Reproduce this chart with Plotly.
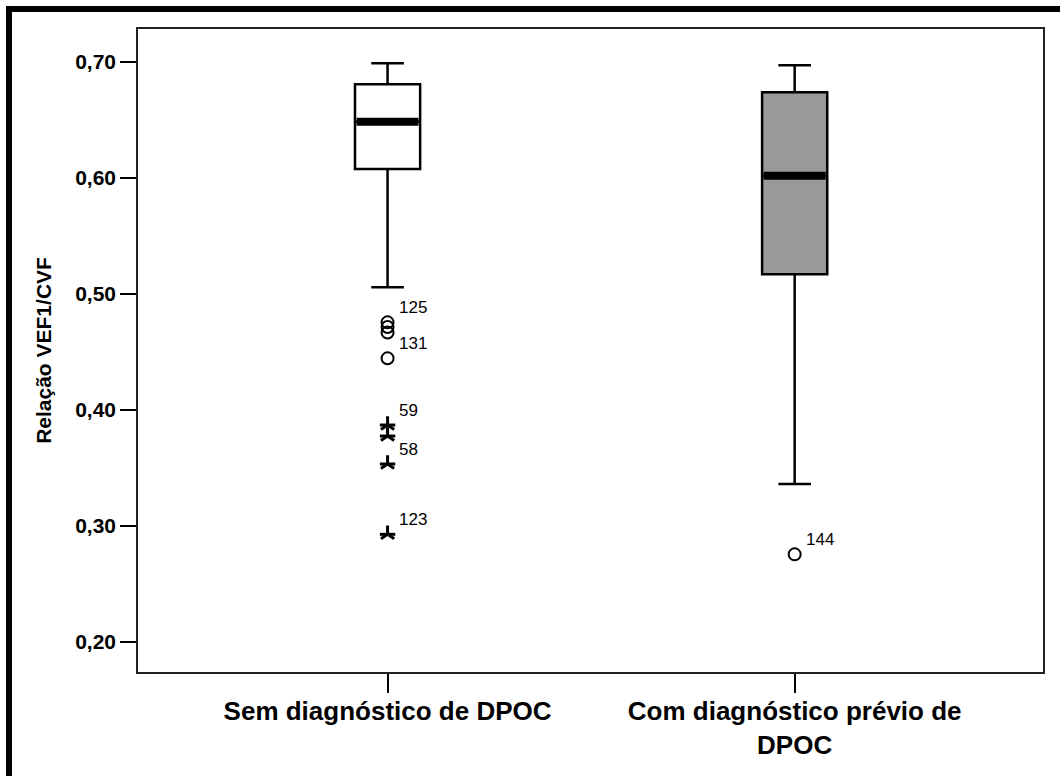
import plotly.graph_objects as go

# ---- data ----
categories = ["Sem diagnóstico de DPOC", "Com diagnóstico prévio de<br>DPOC"]
positions = [0, 1]
q1 = [0.6075, 0.5167]
median = [0.6483, 0.6017]
q3 = [0.6805, 0.6736]
lower_whisker = [0.5055, 0.3359]
upper_whisker = [0.6986, 0.6969]
box_fill = ["#ffffff", "#999999"]

circle_pos = [0, 0, 0, 0, 1]
circle_vals = [0.4753, 0.4713, 0.4665, 0.4443, 0.2753]
star_pos = [0, 0, 0, 0]
star_vals = [0.3868, 0.3773, 0.3532, 0.2926]
label_pos = [0, 0, 0, 0, 0, 1]
label_vals = [0.4753, 0.4443, 0.3868, 0.3532, 0.2926, 0.2753]
label_text = ["125", "131", "59", "58", "123", "144"]

y_ticks = [0.20, 0.30, 0.40, 0.50, 0.60, 0.70]
y_tick_text = ["0,20", "0,30", "0,40", "0,50", "0,60", "0,70"]

BOX_W = 0.16
FONT = "Arial, Liberation Sans, sans-serif"

fig = go.Figure()
for i in range(len(categories)):
    fig.add_trace(go.Box(
        x=[positions[i]], q1=[q1[i]], median=[median[i]], q3=[q3[i]],
        lowerfence=[lower_whisker[i]], upperfence=[upper_whisker[i]],
        width=BOX_W, whiskerwidth=0.5, fillcolor=box_fill[i],
        line=dict(color="black", width=2.5), boxpoints=False,
        hoverinfo="skip", showlegend=False,
    ))
    fig.add_trace(go.Scatter(
        x=[positions[i] - BOX_W / 2 + 0.004, positions[i] + BOX_W / 2 - 0.004],
        y=[median[i], median[i]], mode="lines",
        line=dict(color="black", width=8), showlegend=False, hoverinfo="skip",
    ))

fig.add_trace(go.Scatter(
    x=circle_pos, y=circle_vals, mode="markers",
    marker=dict(symbol="circle-open", size=12, color="black", line=dict(width=2, color="black")),
    showlegend=False, hoverinfo="skip",
))

# five-armed asterisk built from two marker symbols at the same points
for sym in ["y-up-open", "line-ew-open"]:
    fig.add_trace(go.Scatter(
        x=star_pos, y=star_vals, mode="markers",
        marker=dict(symbol=sym, size=11, color="black", line=dict(width=3, color="black")),
        showlegend=False, hoverinfo="skip",
    ))

for p, v, t in zip(label_pos, label_vals, label_text):
    fig.add_annotation(x=p, y=v, text=t, showarrow=False,
                       xanchor="left", yanchor="middle", xshift=9, yshift=15,
                       font=dict(family=FONT, size=17, color="black"))

L, R, T, B = 138, 17, 29, 104
W, H = 1060, 776
pw, ph = W - L - R, H - T - B
fx = (9 - L) / pw
fy = (H - B - 9) / ph
fig.add_shape(type="line", xref="paper", yref="paper", x0=fx, x1=fx, y0=-0.5, y1=fy + 0.0047,
              line=dict(color="black", width=6))
fig.add_shape(type="line", xref="paper", yref="paper", x0=fx - 0.0033, x1=1.5, y0=fy, y1=fy,
              line=dict(color="black", width=6))

fig.update_layout(
    width=W, height=H,
    margin=dict(l=L, r=R, t=T, b=B),
    paper_bgcolor="white", plot_bgcolor="white",
    font=dict(family=FONT, color="black"),
    xaxis=dict(
        range=[-0.613, 1.61], tickmode="array", tickvals=positions, ticktext=categories,
        ticks="outside", ticklen=19, tickwidth=1.5, tickcolor="black",
        tickfont=dict(family=FONT, size=26, weight="bold"), ticklabelstandoff=-4,
        showline=True, linecolor="#222", linewidth=1.5, mirror=True,
        showgrid=False, zeroline=False,
    ),
    yaxis=dict(
        range=[0.1739, 0.7282], tickmode="array", tickvals=y_ticks, ticktext=y_tick_text,
        ticks="outside", ticklen=16, tickwidth=1.5, tickcolor="black",
        tickfont=dict(family=FONT, size=21, weight="bold"),
        showline=True, linecolor="#222", linewidth=1.5, mirror=True,
        showgrid=False, zeroline=False,
        title=dict(text="Relação VEF1/CVF", standoff=18,
                   font=dict(family=FONT, size=21, weight="bold")),
    ),
)

fig.write_html("out.html")
